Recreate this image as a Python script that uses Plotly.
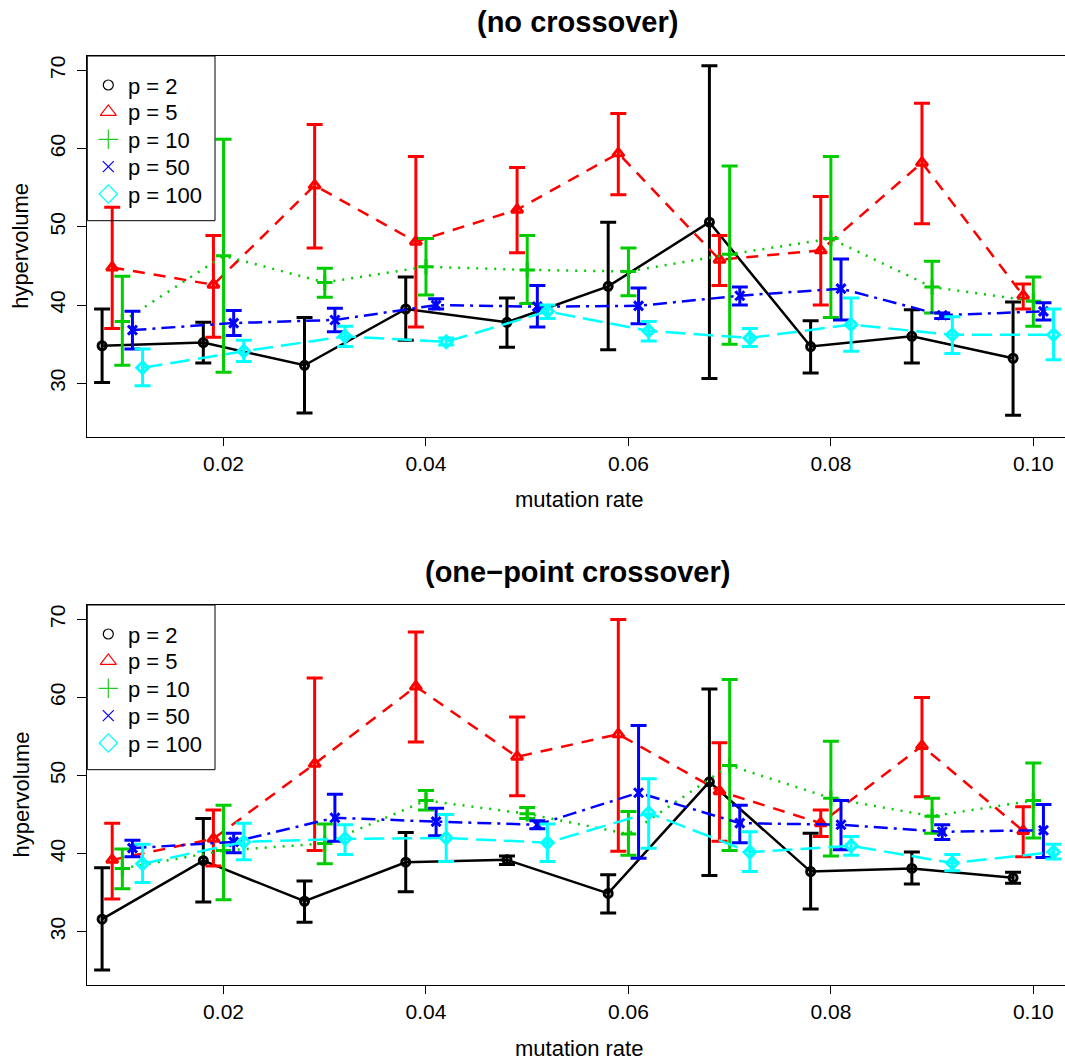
import plotly.graph_objects as go

# ---------------- data ----------------
rates = [0.01, 0.02, 0.03, 0.04, 0.05, 0.06, 0.07, 0.08, 0.09, 0.10]
series_names = ["p = 2", "p = 5", "p = 10", "p = 50", "p = 100"]
tick_vals_x = [0.02, 0.04, 0.06, 0.08, 0.10]
tick_text_x = ["0.02", "0.04", "0.06", "0.08", "0.10"]
tick_vals_y = [30, 40, 50, 60, 70]

# (no crossover)
nc_p2_mean = [34.8, 35.2, 32.3, 39.5, 37.8, 42.4, 50.6, 34.7, 36.0, 33.2]
nc_p2_lo = [30.1, 32.6, 26.2, 35.5, 34.6, 34.3, 30.6, 31.3, 32.6, 25.9]
nc_p2_hi = [39.5, 37.8, 38.4, 43.6, 40.9, 50.6, 70.6, 38.0, 39.4, 40.4]

nc_p5_mean = [44.8, 42.6, 55.3, 48.1, 52.2, 59.4, 45.8, 47.0, 58.2, 41.2]
nc_p5_lo = [37.0, 35.9, 47.3, 37.2, 46.7, 54.1, 42.5, 40.0, 50.4, 39.5]
nc_p5_hi = [52.5, 48.9, 63.1, 59.0, 57.6, 64.5, 48.9, 53.9, 65.8, 42.7]

nc_p10_mean = [37.9, 46.3, 42.9, 44.9, 44.5, 44.3, 46.5, 48.5, 42.3, 40.5]
nc_p10_lo = [32.3, 31.4, 41.0, 41.3, 40.2, 41.2, 35.0, 38.4, 39.0, 37.3]
nc_p10_hi = [43.7, 61.2, 44.7, 48.5, 48.9, 47.3, 57.8, 59.0, 45.6, 43.6]

nc_p50_mean = [36.8, 37.7, 38.1, 40.0, 39.8, 39.9, 41.2, 42.1, 38.7, 39.2]
nc_p50_lo = [34.4, 36.1, 36.6, 39.5, 37.2, 37.6, 40.0, 38.1, 38.3, 38.1]
nc_p50_hi = [39.2, 39.3, 39.6, 40.8, 42.5, 42.2, 42.3, 45.9, 39.0, 40.3]

nc_p100_mean = [32.0, 34.1, 36.0, 35.3, 39.2, 36.7, 35.8, 37.5, 36.2, 36.2]
nc_p100_lo = [29.7, 32.8, 34.7, 34.9, 38.3, 35.4, 34.7, 34.1, 33.8, 33.0]
nc_p100_hi = [34.4, 35.5, 37.3, 35.8, 40.0, 37.9, 37.0, 40.9, 38.5, 39.5]

# (one-point crossover)
op_p2_mean = [31.6, 39.1, 33.9, 38.9, 39.2, 34.9, 49.2, 37.7, 38.1, 36.9]
op_p2_lo = [25.1, 33.8, 31.2, 35.1, 38.6, 32.4, 37.2, 32.9, 36.1, 36.2]
op_p2_hi = [38.2, 44.5, 36.5, 42.7, 39.7, 37.3, 61.1, 42.6, 40.2, 37.6]

op_p5_mean = [39.2, 41.9, 51.5, 61.4, 52.4, 55.3, 48.0, 43.9, 53.8, 42.9]
op_p5_lo = [34.2, 38.4, 40.4, 54.3, 47.4, 40.3, 41.6, 42.2, 47.3, 39.6]
op_p5_hi = [43.9, 45.6, 62.5, 68.4, 57.5, 70.0, 54.2, 45.6, 60.0, 46.0]

op_p10_mean = [38.1, 40.4, 41.3, 46.8, 45.1, 42.5, 51.3, 47.1, 44.8, 46.8]
op_p10_lo = [35.5, 34.1, 38.7, 45.6, 44.5, 39.8, 40.4, 39.7, 42.6, 42.0]
op_p10_hi = [40.6, 46.2, 43.8, 48.1, 45.9, 45.4, 62.3, 54.4, 47.1, 51.6]

op_p50_mean = [40.7, 41.5, 44.6, 44.1, 43.7, 47.8, 43.9, 43.7, 42.8, 43.0]
op_p50_lo = [39.6, 40.1, 41.6, 42.3, 43.2, 39.4, 41.4, 40.5, 41.8, 39.5]
op_p50_hi = [41.7, 42.6, 47.6, 45.8, 44.2, 56.4, 46.2, 46.8, 43.7, 46.3]

op_p100_mean = [38.7, 41.5, 41.9, 42.0, 41.4, 45.2, 40.2, 41.0, 38.8, 40.2]
op_p100_lo = [36.3, 39.2, 39.9, 39.0, 39.0, 40.7, 37.7, 39.8, 37.8, 39.3]
op_p100_hi = [41.2, 43.9, 43.7, 45.0, 43.8, 49.6, 42.8, 42.2, 39.9, 41.2]

# ---------------- styles ----------------
W, H = 1065, 1061
FONT = "Liberation Sans, Arial, Helvetica, sans-serif"
colors = ["#000000", "#FF0000", "#00CD00", "#0000FF", "#00FFFF"]
leg_colors = ["#000000", "#FF0000", "#22CC22", "#0000FF", "#00FFFF"]
dashes = ["solid", "12px,9px", "2px,7px", "14px,6px,3px,6px", "20px,8px"]
symbols = ["circle-open", "triangle-up-open", "cross-thin-open", "x-thin-open", "diamond-open"]
msizes = [8, 10, 11, 9, 9]
leg_sizes = [10, 14, 14, 11, 14]

panels = [
    dict(title="(no crossover)",
         data=[(nc_p2_mean, nc_p2_lo, nc_p2_hi), (nc_p5_mean, nc_p5_lo, nc_p5_hi),
               (nc_p10_mean, nc_p10_lo, nc_p10_hi), (nc_p50_mean, nc_p50_lo, nc_p50_hi),
               (nc_p100_mean, nc_p100_lo, nc_p100_hi)],
         top=56.0, bottom=436.7),
    dict(title="(one\u2212point crossover)",
         data=[(op_p2_mean, op_p2_lo, op_p2_hi), (op_p5_mean, op_p5_lo, op_p5_hi),
               (op_p10_mean, op_p10_lo, op_p10_hi), (op_p50_mean, op_p50_lo, op_p50_hi),
               (op_p100_mean, op_p100_lo, op_p100_hi)],
         top=605.0, bottom=985.0),
]

left_px = 86.7
x_range = [0.00648, 0.10313]
y_range = [23.17, 71.85]

# legend geometry (pixels, relative to panel top)
leg_left, leg_right = 87.3, 215.0
leg_height = 164.7
leg_row_offsets = [29.0, 55.9, 83.3, 110.6, 138.0]
leg_marker_x = 108.3
leg_text_x = 126.0

fig = go.Figure()
annotations = []
shapes = []
layout = {}

for k, panel in enumerate(panels):
    suffix = "" if k == 0 else str(k + 1)
    xa, ya = "x" + suffix, "y" + suffix
    for i, (mean, lo, hi) in enumerate(panel["data"]):
        dodge = 0.001 * (i - 2)
        xs = [r + dodge for r in rates]
        fig.add_trace(go.Scatter(
            x=xs, y=mean, xaxis=xa, yaxis=ya, mode="lines+markers",
            showlegend=False, cliponaxis=False,
            line=dict(color=colors[i], width=2.5, dash=dashes[i]),
            marker=dict(symbol=symbols[i], size=msizes[i], color=colors[i],
                        line=dict(color=colors[i], width=3)),
            error_y=dict(type="data", symmetric=False,
                         array=[h - m for h, m in zip(hi, mean)],
                         arrayminus=[m - l for m, l in zip(mean, lo)],
                         color=colors[i], thickness=3, width=8),
        ))

    y0 = 1 - panel["bottom"] / H
    y1 = 1 - panel["top"] / H
    layout["xaxis" + suffix] = dict(
        domain=[left_px / W, 1.0], range=x_range, anchor=ya,
        tickvals=tick_vals_x, ticktext=tick_text_x,
        ticks="outside", ticklen=8, tickwidth=1, tickcolor="black",
        showline=True, linecolor="black", linewidth=1, mirror=True,
        showgrid=False, zeroline=False,
        tickfont=dict(family=FONT, size=21, color="black"),
    )
    layout["yaxis" + suffix] = dict(
        domain=[y0, y1], range=y_range, anchor=xa,
        tickvals=tick_vals_y, tickangle=-90,
        ticks="outside", ticklen=9, tickwidth=1, tickcolor="black",
        showline=True, linecolor="black", linewidth=1, mirror=False,
        showgrid=False, zeroline=False, ticklabelstandoff=3,
        tickfont=dict(family=FONT, size=21, color="black"),
    )

    # manual legend (transparent box, like the reference)
    top = panel["top"]
    shapes.append(dict(type="rect", xref="x3", yref="y3",
                       x0=leg_left, x1=leg_right, y0=top, y1=top + leg_height,
                       line=dict(color="black", width=1), fillcolor="rgba(0,0,0,0)",
                       layer="above"))
    for i, name in enumerate(series_names):
        fig.add_trace(go.Scatter(
            x=[leg_marker_x], y=[top + leg_row_offsets[i]], xaxis="x3", yaxis="y3",
            mode="markers", showlegend=False, hoverinfo="skip",
            marker=dict(symbol=symbols[i], size=leg_sizes[i], color=leg_colors[i],
                        line=dict(color=leg_colors[i], width=1.2)),
        ))
        annotations.append(dict(
            text=name, xref="x3", yref="y3", x=leg_text_x, y=top + leg_row_offsets[i] + 1,
            xanchor="left", yanchor="middle", showarrow=False,
            font=dict(family=FONT, size=22, color="black"),
        ))

    # panel title
    annotations.append(dict(
        text="<b>%s</b>" % panel["title"], xref="paper", yref="paper",
        x=577.5 / W, y=1 - (panel["top"] - 33.5) / H, xanchor="center", yanchor="middle",
        showarrow=False, font=dict(family=FONT, size=29, color="black"),
    ))
    # x axis title
    annotations.append(dict(
        text="mutation rate", xref="paper", yref="paper",
        x=579 / W, y=1 - (panel["bottom"] + 63) / H, xanchor="center", yanchor="middle",
        showarrow=False, font=dict(family=FONT, size=22, color="black"),
    ))
    # y axis title
    annotations.append(dict(
        text="hypervolume", xref="paper", yref="paper", textangle=-90,
        x=20.5 / W, y=1 - ((panel["top"] + panel["bottom"]) / 2) / H,
        xanchor="center", yanchor="middle",
        showarrow=False, font=dict(family=FONT, size=22, color="black"),
    ))

# full-figure pixel axis used only for the legend boxes
layout["xaxis3"] = dict(domain=[0, 1], range=[0, W], visible=False, fixedrange=True, anchor="y3")
layout["yaxis3"] = dict(domain=[0, 1], range=[H, 0], visible=False, fixedrange=True, anchor="x3")

fig.update_layout(
    width=W, height=H, autosize=False,
    margin=dict(l=0, r=0, t=0, b=0, pad=0),
    paper_bgcolor="white", plot_bgcolor="rgba(0,0,0,0)",
    font=dict(family=FONT, color="black"),
    showlegend=False,
    annotations=annotations, shapes=shapes,
    **layout,
)

fig.write_html("out.html")
